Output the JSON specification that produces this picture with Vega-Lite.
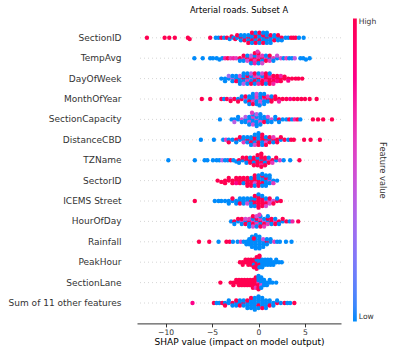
{
"$schema":"https://vega.github.io/schema/vega-lite/v6.json",
"width":204,"height":306,
"autosize":{"type":"none"},
"padding":{"left":137,"top":17.4,"right":58,"bottom":30.6},
"title":{"text":"Arterial roads. Subset A","fontSize":8.3,"fontWeight":"normal","font":"DejaVu Sans","color":"#000","offset":3,"anchor":"middle"},
"config":{"view":{"stroke":null},"font":"DejaVu Sans"},
"datasets":{
"names":[{"r":0,"feature":"SectionID"},{"r":1,"feature":"TempAvg"},{"r":2,"feature":"DayOfWeek"},{"r":3,"feature":"MonthOfYear"},{"r":4,"feature":"SectionCapacity"},{"r":5,"feature":"DistanceCBD"},{"r":6,"feature":"TZName"},{"r":7,"feature":"SectorID"},{"r":8,"feature":"ICEMS Street"},{"r":9,"feature":"HourOfDay"},{"r":10,"feature":"Rainfall"},{"r":11,"feature":"PeakHour"},{"r":12,"feature":"SectionLane"},{"r":13,"feature":"Sum of 11 other features"}],
"pts":[
{"r":0,"x":-12.0,"j":0,"v":1},{"r":0,"x":-10.1,"j":0,"v":1},{"r":0,"x":-9.6,"j":0,"v":1},{"r":0,"x":-9.0,"j":0,"v":1},{"r":0,"x":-7.6,"j":0,"v":1},{"r":0,"x":-7.4,"j":0.5,"v":1},{"r":0,"x":-5.2,"j":0,"v":1},
{"r":0,"x":-4.6,"j":0,"v":0},{"r":0,"x":-4.3,"j":0,"v":0},{"r":0,"x":-4.0,"j":0,"v":1},{"r":0,"x":-3.7,"j":0,"v":0},{"r":0,"x":-3.4,"j":0,"v":1},{"r":0,"x":-3.1,"j":0.5,"v":0},{"r":0,"x":-2.9,"j":-0.5,"v":1},{"r":0,"x":-2.7,"j":0,"v":0},{"r":0,"x":-2.5,"j":0.5,"v":1},
{"r":0,"x":-2.3,"j":0,"v":0},{"r":0,"x":-2.3,"j":-1,"v":1},
{"r":0,"x":-1.9,"j":0,"v":1},{"r":0,"x":-1.9,"j":1,"v":0},{"r":0,"x":-1.9,"j":-1,"v":0},
{"r":0,"x":-1.5,"j":0,"v":0},{"r":0,"x":-1.5,"j":1,"v":1},{"r":0,"x":-1.5,"j":-1,"v":0},
{"r":0,"x":-1.1,"j":0,"v":1},{"r":0,"x":-1.1,"j":1,"v":0},{"r":0,"x":-1.1,"j":-1,"v":0},{"r":0,"x":-1.1,"j":2,"v":1},
{"r":0,"x":-0.7,"j":0,"v":0},{"r":0,"x":-0.7,"j":1,"v":1},{"r":0,"x":-0.7,"j":-1,"v":0},{"r":0,"x":-0.7,"j":2,"v":0},{"r":0,"x":-0.7,"j":-2,"v":1},
{"r":0,"x":-0.3,"j":0,"v":1},{"r":0,"x":-0.3,"j":1,"v":0},{"r":0,"x":-0.3,"j":-1,"v":1},{"r":0,"x":-0.3,"j":2,"v":1},{"r":0,"x":-0.3,"j":-2,"v":0},
{"r":0,"x":0.1,"j":0,"v":0},{"r":0,"x":0.1,"j":1,"v":1},{"r":0,"x":0.1,"j":-1,"v":0},{"r":0,"x":0.1,"j":2,"v":0},{"r":0,"x":0.1,"j":-2,"v":1},
{"r":0,"x":0.5,"j":0,"v":0},{"r":0,"x":0.5,"j":1,"v":0},{"r":0,"x":0.5,"j":-1,"v":1},{"r":0,"x":0.5,"j":2,"v":1},{"r":0,"x":0.5,"j":-2,"v":0},
{"r":0,"x":0.9,"j":0,"v":1},{"r":0,"x":0.9,"j":1,"v":0},{"r":0,"x":0.9,"j":-1,"v":0},{"r":0,"x":0.9,"j":2,"v":0},{"r":0,"x":0.9,"j":-2,"v":0},
{"r":0,"x":1.3,"j":0,"v":0},{"r":0,"x":1.3,"j":1,"v":0},{"r":0,"x":1.3,"j":-1,"v":1},{"r":0,"x":1.3,"j":2,"v":0},
{"r":0,"x":1.7,"j":0,"v":0},{"r":0,"x":1.7,"j":1,"v":1},{"r":0,"x":1.7,"j":-1,"v":0},
{"r":0,"x":2.1,"j":0,"v":0},{"r":0,"x":2.1,"j":1,"v":0},{"r":0,"x":2.1,"j":-1,"v":1},
{"r":0,"x":2.5,"j":0,"v":1},{"r":0,"x":2.5,"j":1,"v":0},
{"r":0,"x":2.9,"j":0,"v":0},{"r":0,"x":3.2,"j":0,"v":0},{"r":0,"x":3.5,"j":0,"v":1},{"r":0,"x":3.75,"j":0,"v":1},{"r":0,"x":4.0,"j":0,"v":1},{"r":0,"x":4.35,"j":0,"v":0},{"r":0,"x":4.85,"j":0,"v":0},

{"r":1,"x":-6.9,"j":0,"v":0},{"r":1,"x":-6.0,"j":0,"v":0},{"r":1,"x":-5.2,"j":0,"v":0},{"r":1,"x":-4.9,"j":0,"v":0},{"r":1,"x":-4.5,"j":0,"v":0},{"r":1,"x":-4.2,"j":0.5,"v":0},{"r":1,"x":-3.9,"j":0,"v":0},{"r":1,"x":-3.6,"j":0,"v":0.7},{"r":1,"x":-3.3,"j":0,"v":1},{"r":1,"x":-3.0,"j":0,"v":0.6},
{"r":1,"x":-2.7,"j":0,"v":0.7},{"r":1,"x":-2.4,"j":0,"v":0.6},
{"r":1,"x":-2.0,"j":0,"v":1},{"r":1,"x":-2.0,"j":1,"v":0},
{"r":1,"x":-1.6,"j":0,"v":0.6},{"r":1,"x":-1.6,"j":-1,"v":1},{"r":1,"x":-1.6,"j":1,"v":0},
{"r":1,"x":-1.2,"j":0,"v":1},{"r":1,"x":-1.2,"j":1,"v":0.5},{"r":1,"x":-1.2,"j":-1,"v":0},
{"r":1,"x":-0.8,"j":0,"v":0.6},{"r":1,"x":-0.8,"j":1,"v":1},{"r":1,"x":-0.8,"j":-1,"v":0.4},{"r":1,"x":-0.8,"j":2,"v":0},
{"r":1,"x":-0.4,"j":0,"v":1},{"r":1,"x":-0.4,"j":1,"v":0.6},{"r":1,"x":-0.4,"j":-1,"v":0},{"r":1,"x":-0.4,"j":2,"v":0.7},{"r":1,"x":-0.4,"j":-2,"v":1},
{"r":1,"x":0.0,"j":0,"v":0.6},{"r":1,"x":0.0,"j":1,"v":1},{"r":1,"x":0.0,"j":-1,"v":0.7},{"r":1,"x":0.0,"j":2,"v":0},{"r":1,"x":0.0,"j":-2,"v":1},{"r":1,"x":-0.1,"j":-2.6,"v":0.6},
{"r":1,"x":0.4,"j":0,"v":1},{"r":1,"x":0.4,"j":1,"v":0},{"r":1,"x":0.4,"j":-1,"v":0.6},{"r":1,"x":0.4,"j":2,"v":0.5},
{"r":1,"x":0.8,"j":0,"v":0.5},{"r":1,"x":0.8,"j":1,"v":1},{"r":1,"x":0.8,"j":-1,"v":0},
{"r":1,"x":1.2,"j":0,"v":0},{"r":1,"x":1.2,"j":1,"v":0.6},{"r":1,"x":1.2,"j":-1,"v":1},
{"r":1,"x":1.6,"j":0,"v":0.6},{"r":1,"x":1.6,"j":1,"v":0},
{"r":1,"x":2.0,"j":0,"v":0},{"r":1,"x":2.0,"j":-1,"v":0.5},
{"r":1,"x":2.4,"j":0,"v":0.5},{"r":1,"x":2.7,"j":0,"v":0},{"r":1,"x":3.0,"j":0,"v":0.6},{"r":1,"x":3.3,"j":0,"v":0},{"r":1,"x":3.6,"j":0,"v":0},{"r":1,"x":3.9,"j":0,"v":0.4},{"r":1,"x":4.5,"j":0,"v":0},{"r":1,"x":4.8,"j":0,"v":0},{"r":1,"x":5.1,"j":0.5,"v":0},{"r":1,"x":5.5,"j":0,"v":0},

{"r":2,"x":-4.0,"j":0,"v":0},
{"r":2,"x":-3.6,"j":0,"v":0},{"r":2,"x":-3.6,"j":1,"v":0},
{"r":2,"x":-3.2,"j":0,"v":0},{"r":2,"x":-3.2,"j":-1,"v":0.3},
{"r":2,"x":-2.8,"j":0,"v":0.4},{"r":2,"x":-2.8,"j":1,"v":0},{"r":2,"x":-2.8,"j":-1,"v":0},
{"r":2,"x":-2.4,"j":0,"v":0},{"r":2,"x":-2.4,"j":1,"v":1},{"r":2,"x":-2.4,"j":-1,"v":0},
{"r":2,"x":-2.0,"j":0,"v":0},{"r":2,"x":-2.0,"j":1,"v":0},{"r":2,"x":-2.0,"j":-1,"v":0.5},{"r":2,"x":-2.0,"j":2,"v":0},
{"r":2,"x":-1.6,"j":0,"v":1},{"r":2,"x":-1.6,"j":1,"v":0},{"r":2,"x":-1.6,"j":-1,"v":0},{"r":2,"x":-1.6,"j":2,"v":0.4},{"r":2,"x":-1.6,"j":-2,"v":0},
{"r":2,"x":-1.2,"j":0,"v":0},{"r":2,"x":-1.2,"j":1,"v":0.6},{"r":2,"x":-1.2,"j":-1,"v":1},{"r":2,"x":-1.2,"j":2,"v":0},{"r":2,"x":-1.2,"j":-2,"v":0},
{"r":2,"x":-0.8,"j":0,"v":0.5},{"r":2,"x":-0.8,"j":1,"v":0},{"r":2,"x":-0.8,"j":-1,"v":0},{"r":2,"x":-0.8,"j":2,"v":1},{"r":2,"x":-0.8,"j":-2,"v":0.4},
{"r":2,"x":-0.4,"j":0,"v":0},{"r":2,"x":-0.4,"j":1,"v":1},{"r":2,"x":-0.4,"j":-1,"v":0.6},{"r":2,"x":-0.4,"j":2,"v":0},{"r":2,"x":-0.4,"j":-2,"v":1},
{"r":2,"x":0.0,"j":0,"v":1},{"r":2,"x":0.0,"j":1,"v":0},{"r":2,"x":0.0,"j":-1,"v":0.5},{"r":2,"x":0.0,"j":2,"v":0.7},{"r":2,"x":0.0,"j":-2,"v":0},
{"r":2,"x":0.4,"j":0,"v":0.6},{"r":2,"x":0.4,"j":1,"v":1},{"r":2,"x":0.4,"j":-1,"v":0},{"r":2,"x":0.4,"j":2,"v":1},{"r":2,"x":0.4,"j":-2,"v":0.5},
{"r":2,"x":0.8,"j":0,"v":1},{"r":2,"x":0.8,"j":1,"v":0.7},{"r":2,"x":0.8,"j":-1,"v":1},{"r":2,"x":0.8,"j":2,"v":0},{"r":2,"x":0.8,"j":-2,"v":1},
{"r":2,"x":1.2,"j":0,"v":1},{"r":2,"x":1.2,"j":1,"v":1},{"r":2,"x":1.2,"j":-1,"v":0.7},{"r":2,"x":1.2,"j":2,"v":1},{"r":2,"x":1.2,"j":-2,"v":0},
{"r":2,"x":1.6,"j":0,"v":0.8},{"r":2,"x":1.6,"j":1,"v":1},{"r":2,"x":1.6,"j":-1,"v":1},{"r":2,"x":1.6,"j":2,"v":0.7},
{"r":2,"x":2.0,"j":0,"v":1},{"r":2,"x":2.0,"j":1,"v":0.8},{"r":2,"x":2.0,"j":-1,"v":1},
{"r":2,"x":2.4,"j":0,"v":1},{"r":2,"x":2.4,"j":1,"v":1},{"r":2,"x":2.4,"j":-1,"v":0.7},
{"r":2,"x":2.8,"j":0,"v":1},{"r":2,"x":2.8,"j":-0.8,"v":1},
{"r":2,"x":3.2,"j":0,"v":1},{"r":2,"x":3.2,"j":0.8,"v":0.8},
{"r":2,"x":3.6,"j":0,"v":1},{"r":2,"x":4.0,"j":0,"v":1},{"r":2,"x":4.3,"j":0,"v":1},{"r":2,"x":4.7,"j":0,"v":1},

{"r":3,"x":-6.1,"j":0,"v":1},{"r":3,"x":-5.2,"j":0,"v":1},
{"r":3,"x":-4.0,"j":0,"v":1},{"r":3,"x":-3.7,"j":0,"v":0},{"r":3,"x":-3.4,"j":0,"v":1},{"r":3,"x":-3.0,"j":0,"v":0.5},{"r":3,"x":-3.0,"j":0.8,"v":1},{"r":3,"x":-2.6,"j":0,"v":1},
{"r":3,"x":-2.2,"j":0,"v":0},{"r":3,"x":-2.2,"j":1,"v":1},
{"r":3,"x":-1.8,"j":0,"v":1},{"r":3,"x":-1.8,"j":-1,"v":0},
{"r":3,"x":-1.4,"j":0,"v":0.4},{"r":3,"x":-1.4,"j":1,"v":0},{"r":3,"x":-1.4,"j":-1,"v":1},
{"r":3,"x":-1.0,"j":0,"v":0},{"r":3,"x":-1.0,"j":1,"v":1},{"r":3,"x":-1.0,"j":-1,"v":0},{"r":3,"x":-1.0,"j":2,"v":0},
{"r":3,"x":-0.6,"j":0,"v":0},{"r":3,"x":-0.6,"j":1,"v":0.6},{"r":3,"x":-0.6,"j":-1,"v":0},{"r":3,"x":-0.6,"j":2,"v":1},{"r":3,"x":-0.6,"j":-2,"v":0},
{"r":3,"x":-0.2,"j":0,"v":0.5},{"r":3,"x":-0.2,"j":1,"v":0},{"r":3,"x":-0.2,"j":-1,"v":0.6},{"r":3,"x":-0.2,"j":2,"v":0},{"r":3,"x":-0.2,"j":-2,"v":0.5},
{"r":3,"x":0.2,"j":0,"v":0},{"r":3,"x":0.2,"j":1,"v":0.5},{"r":3,"x":0.2,"j":-1,"v":0},{"r":3,"x":0.2,"j":2,"v":0.4},{"r":3,"x":0.2,"j":-2,"v":0},{"r":3,"x":0.1,"j":2.5,"v":0},
{"r":3,"x":0.6,"j":0,"v":0.6},{"r":3,"x":0.6,"j":1,"v":0},{"r":3,"x":0.6,"j":-1,"v":1},{"r":3,"x":0.6,"j":2,"v":0},{"r":3,"x":0.6,"j":-2,"v":0},
{"r":3,"x":1.0,"j":0,"v":1},{"r":3,"x":1.0,"j":1,"v":0},{"r":3,"x":1.0,"j":-1,"v":0.6},
{"r":3,"x":1.4,"j":0,"v":1},{"r":3,"x":1.4,"j":1,"v":1},{"r":3,"x":1.4,"j":-1,"v":0},
{"r":3,"x":1.8,"j":0,"v":1},{"r":3,"x":1.8,"j":-1,"v":1},
{"r":3,"x":2.2,"j":0,"v":1},{"r":3,"x":2.2,"j":1,"v":0.7},
{"r":3,"x":2.6,"j":0,"v":1},{"r":3,"x":3.0,"j":0,"v":1},{"r":3,"x":3.4,"j":0,"v":0.8},{"r":3,"x":3.8,"j":0,"v":1},{"r":3,"x":4.2,"j":0,"v":1},{"r":3,"x":4.6,"j":0,"v":1},{"r":3,"x":5.0,"j":0,"v":1},{"r":3,"x":5.5,"j":0,"v":1},{"r":3,"x":6.25,"j":0,"v":1},

{"r":4,"x":-4.15,"j":0,"v":0},{"r":4,"x":-2.9,"j":0,"v":0},
{"r":4,"x":-2.6,"j":0,"v":0},{"r":4,"x":-2.6,"j":1,"v":0.4},
{"r":4,"x":-2.2,"j":0,"v":0},{"r":4,"x":-2.2,"j":-1,"v":0},
{"r":4,"x":-1.8,"j":0,"v":0.5},{"r":4,"x":-1.8,"j":1,"v":0},
{"r":4,"x":-1.4,"j":0,"v":0},{"r":4,"x":-1.4,"j":1,"v":0},{"r":4,"x":-1.4,"j":-1,"v":0.4},
{"r":4,"x":-1.0,"j":0,"v":0},{"r":4,"x":-1.0,"j":1,"v":0.5},{"r":4,"x":-1.0,"j":-1,"v":0},{"r":4,"x":-1.0,"j":2,"v":0},
{"r":4,"x":-0.6,"j":0,"v":0},{"r":4,"x":-0.6,"j":1,"v":0},{"r":4,"x":-0.6,"j":-1,"v":0.6},{"r":4,"x":-0.6,"j":2,"v":0.5},{"r":4,"x":-0.6,"j":-2,"v":0},{"r":4,"x":-0.7,"j":-2.6,"v":0.6},
{"r":4,"x":-0.2,"j":0,"v":0.5},{"r":4,"x":-0.2,"j":1,"v":0},{"r":4,"x":-0.2,"j":-1,"v":0},{"r":4,"x":-0.2,"j":2,"v":0},{"r":4,"x":-0.2,"j":-2,"v":0.4},{"r":4,"x":-0.2,"j":2.6,"v":0},
{"r":4,"x":0.2,"j":0,"v":0},{"r":4,"x":0.2,"j":1,"v":0.5},{"r":4,"x":0.2,"j":-1,"v":0},{"r":4,"x":0.2,"j":2,"v":0},{"r":4,"x":0.2,"j":-2,"v":0},
{"r":4,"x":0.6,"j":0,"v":0},{"r":4,"x":0.6,"j":1,"v":1},{"r":4,"x":0.6,"j":-1,"v":0},
{"r":4,"x":1.0,"j":0,"v":0},{"r":4,"x":1.0,"j":1,"v":0},{"r":4,"x":1.0,"j":-1,"v":0.5},
{"r":4,"x":1.4,"j":0,"v":0.5},{"r":4,"x":1.4,"j":1,"v":0},
{"r":4,"x":1.8,"j":0,"v":0},{"r":4,"x":1.8,"j":-1,"v":0},
{"r":4,"x":2.2,"j":0,"v":1},{"r":4,"x":2.2,"j":1,"v":0},
{"r":4,"x":2.6,"j":0,"v":0},{"r":4,"x":3.0,"j":0,"v":0},{"r":4,"x":3.3,"j":0,"v":1},{"r":4,"x":3.6,"j":0,"v":0},{"r":4,"x":3.9,"j":0,"v":0.7},{"r":4,"x":4.2,"j":0,"v":1},{"r":4,"x":4.5,"j":0,"v":0},{"r":4,"x":5.85,"j":0,"v":1},{"r":4,"x":6.4,"j":0,"v":1},{"r":4,"x":6.95,"j":0,"v":1},{"r":4,"x":7.9,"j":0,"v":1},

{"r":5,"x":-6.2,"j":0,"v":0},{"r":5,"x":-4.8,"j":0,"v":0},
{"r":5,"x":-3.8,"j":0,"v":0},{"r":5,"x":-3.5,"j":0,"v":0.6},
{"r":5,"x":-3.2,"j":0,"v":0},{"r":5,"x":-3.2,"j":1,"v":1},
{"r":5,"x":-2.8,"j":0,"v":0},
{"r":5,"x":-2.4,"j":0,"v":1},{"r":5,"x":-2.4,"j":1,"v":0},
{"r":5,"x":-2.0,"j":0,"v":0},{"r":5,"x":-2.0,"j":-1,"v":1},
{"r":5,"x":-1.6,"j":0,"v":0},{"r":5,"x":-1.6,"j":1,"v":0.6},{"r":5,"x":-1.6,"j":-1,"v":0},
{"r":5,"x":-1.2,"j":0,"v":1},{"r":5,"x":-1.2,"j":1,"v":0},{"r":5,"x":-1.2,"j":-1,"v":0},
{"r":5,"x":-0.8,"j":0,"v":0},{"r":5,"x":-0.8,"j":1,"v":1},{"r":5,"x":-0.8,"j":-1,"v":0},{"r":5,"x":-0.8,"j":2,"v":0},
{"r":5,"x":-0.4,"j":0,"v":1},{"r":5,"x":-0.4,"j":1,"v":0},{"r":5,"x":-0.4,"j":-1,"v":1},{"r":5,"x":-0.4,"j":2,"v":0.5},{"r":5,"x":-0.4,"j":-2,"v":0},
{"r":5,"x":0.0,"j":0,"v":0},{"r":5,"x":0.0,"j":1,"v":1},{"r":5,"x":0.0,"j":-1,"v":0},{"r":5,"x":0.0,"j":2,"v":1},{"r":5,"x":0.0,"j":-2,"v":0},{"r":5,"x":0.0,"j":-2.6,"v":0},
{"r":5,"x":0.4,"j":0,"v":1},{"r":5,"x":0.4,"j":1,"v":0},{"r":5,"x":0.4,"j":-1,"v":1},{"r":5,"x":0.4,"j":2,"v":0},{"r":5,"x":0.4,"j":-2,"v":1},
{"r":5,"x":0.8,"j":0,"v":1},{"r":5,"x":0.8,"j":1,"v":0.5},{"r":5,"x":0.8,"j":-1,"v":0},{"r":5,"x":0.8,"j":2,"v":1},
{"r":5,"x":1.2,"j":0,"v":0},{"r":5,"x":1.2,"j":1,"v":1},{"r":5,"x":1.2,"j":-1,"v":1},
{"r":5,"x":1.6,"j":0,"v":1},{"r":5,"x":1.6,"j":1,"v":0},{"r":5,"x":1.6,"j":-1,"v":0.6},
{"r":5,"x":2.0,"j":0,"v":1},{"r":5,"x":2.0,"j":1,"v":1},
{"r":5,"x":2.4,"j":0,"v":0},{"r":5,"x":2.4,"j":-1,"v":1},
{"r":5,"x":2.8,"j":0,"v":1},{"r":5,"x":3.2,"j":0,"v":0},{"r":5,"x":3.5,"j":0,"v":1},{"r":5,"x":3.8,"j":0,"v":1},{"r":5,"x":4.9,"j":0,"v":1},{"r":5,"x":5.6,"j":0,"v":1},{"r":5,"x":6.6,"j":0,"v":1},

{"r":6,"x":-9.7,"j":0,"v":0},{"r":6,"x":-6.85,"j":0,"v":0},{"r":6,"x":-5.8,"j":0,"v":0},{"r":6,"x":-5.5,"j":0,"v":0},{"r":6,"x":-4.9,"j":0,"v":0},{"r":6,"x":-4.5,"j":0,"v":0},{"r":6,"x":-4.2,"j":0,"v":0},{"r":6,"x":-3.9,"j":0,"v":0.4},{"r":6,"x":-3.6,"j":0,"v":0},{"r":6,"x":-3.3,"j":0,"v":0},{"r":6,"x":-3.0,"j":0,"v":1},{"r":6,"x":-2.7,"j":0,"v":0},{"r":6,"x":-2.4,"j":0.5,"v":0},
{"r":6,"x":-2.1,"j":0,"v":1},{"r":6,"x":-2.1,"j":1,"v":0},
{"r":6,"x":-1.7,"j":0,"v":0},{"r":6,"x":-1.7,"j":-1,"v":1},
{"r":6,"x":-1.3,"j":0,"v":1},{"r":6,"x":-1.3,"j":1,"v":0},{"r":6,"x":-1.3,"j":-1,"v":1},
{"r":6,"x":-0.9,"j":0,"v":1},{"r":6,"x":-0.9,"j":1,"v":1},{"r":6,"x":-0.9,"j":-1,"v":0},
{"r":6,"x":-0.5,"j":0,"v":1},{"r":6,"x":-0.5,"j":1,"v":0},{"r":6,"x":-0.5,"j":-1,"v":1},{"r":6,"x":-0.5,"j":2,"v":1},
{"r":6,"x":-0.1,"j":0,"v":1},{"r":6,"x":-0.1,"j":1,"v":1},{"r":6,"x":-0.1,"j":-1,"v":0},{"r":6,"x":-0.1,"j":2,"v":1},{"r":6,"x":-0.1,"j":-2,"v":1},
{"r":6,"x":0.3,"j":0,"v":0},{"r":6,"x":0.3,"j":1,"v":1},{"r":6,"x":0.3,"j":-1,"v":1},{"r":6,"x":0.3,"j":2,"v":0.7},{"r":6,"x":0.3,"j":-2,"v":1},{"r":6,"x":0.3,"j":2.6,"v":1},{"r":6,"x":0.3,"j":-2.6,"v":1},
{"r":6,"x":0.7,"j":0,"v":1},{"r":6,"x":0.7,"j":1,"v":0},{"r":6,"x":0.7,"j":-1,"v":1},{"r":6,"x":0.7,"j":2,"v":1},
{"r":6,"x":1.1,"j":0,"v":0.6},{"r":6,"x":1.1,"j":1,"v":1},{"r":6,"x":1.1,"j":-1,"v":0},
{"r":6,"x":1.5,"j":0,"v":1},{"r":6,"x":1.5,"j":1,"v":0.6},
{"r":6,"x":1.9,"j":0,"v":0},{"r":6,"x":1.9,"j":-1,"v":1},
{"r":6,"x":2.3,"j":0,"v":0.6},{"r":6,"x":2.7,"j":0,"v":0},{"r":6,"x":3.4,"j":0,"v":0},{"r":6,"x":4.4,"j":0,"v":1},

{"r":7,"x":-4.4,"j":0,"v":1},{"r":7,"x":-4.0,"j":0.5,"v":1},
{"r":7,"x":-3.6,"j":0,"v":1},{"r":7,"x":-3.6,"j":1,"v":1},
{"r":7,"x":-3.2,"j":0,"v":1},{"r":7,"x":-3.2,"j":-1,"v":1},
{"r":7,"x":-2.8,"j":0,"v":1},{"r":7,"x":-2.8,"j":1,"v":1},
{"r":7,"x":-2.4,"j":0,"v":1},{"r":7,"x":-2.4,"j":-1,"v":1},{"r":7,"x":-2.4,"j":1,"v":0.8},
{"r":7,"x":-2.0,"j":0,"v":1},{"r":7,"x":-2.0,"j":1,"v":1},{"r":7,"x":-2.0,"j":-1,"v":1},
{"r":7,"x":-1.6,"j":0,"v":1},{"r":7,"x":-1.6,"j":1,"v":0},{"r":7,"x":-1.6,"j":-1,"v":1},
{"r":7,"x":-1.2,"j":0,"v":1},{"r":7,"x":-1.2,"j":1,"v":1},{"r":7,"x":-1.2,"j":-1,"v":1},{"r":7,"x":-1.2,"j":2,"v":1},
{"r":7,"x":-0.8,"j":0,"v":1},{"r":7,"x":-0.8,"j":1,"v":1},{"r":7,"x":-0.8,"j":-1,"v":0},{"r":7,"x":-0.8,"j":2,"v":1},
{"r":7,"x":-0.4,"j":0,"v":1},{"r":7,"x":-0.4,"j":1,"v":0.5},{"r":7,"x":-0.4,"j":-1,"v":1},{"r":7,"x":-0.4,"j":2,"v":0},{"r":7,"x":-0.4,"j":-2,"v":1},
{"r":7,"x":0.0,"j":0,"v":1},{"r":7,"x":0.0,"j":1,"v":1},{"r":7,"x":0.0,"j":-1,"v":0},{"r":7,"x":0.0,"j":2,"v":1},{"r":7,"x":0.0,"j":-2,"v":0},
{"r":7,"x":0.4,"j":0,"v":0},{"r":7,"x":0.4,"j":1,"v":1},{"r":7,"x":0.4,"j":-1,"v":0},{"r":7,"x":0.4,"j":2,"v":0},{"r":7,"x":0.4,"j":-2,"v":1},{"r":7,"x":0.4,"j":-2.6,"v":0},
{"r":7,"x":0.8,"j":0,"v":0},{"r":7,"x":0.8,"j":1,"v":0},{"r":7,"x":0.8,"j":-1,"v":1},{"r":7,"x":0.8,"j":2,"v":0},{"r":7,"x":0.8,"j":-2,"v":0},
{"r":7,"x":1.2,"j":0,"v":0.5},{"r":7,"x":1.2,"j":1,"v":0},{"r":7,"x":1.2,"j":-1,"v":0},{"r":7,"x":1.2,"j":-2,"v":0},
{"r":7,"x":1.6,"j":0,"v":0},{"r":7,"x":1.6,"j":1,"v":0.6},
{"r":7,"x":2.0,"j":0,"v":0},

{"r":8,"x":-6.85,"j":0,"v":1},
{"r":8,"x":-4.7,"j":0,"v":0},{"r":8,"x":-4.3,"j":0,"v":0},{"r":8,"x":-4.0,"j":0,"v":0},{"r":8,"x":-3.6,"j":0,"v":0},
{"r":8,"x":-3.2,"j":0,"v":0},{"r":8,"x":-3.2,"j":1,"v":0},
{"r":8,"x":-2.8,"j":0,"v":0},{"r":8,"x":-2.8,"j":-1,"v":1},
{"r":8,"x":-2.4,"j":0,"v":0},{"r":8,"x":-2.4,"j":1,"v":0},
{"r":8,"x":-2.0,"j":0,"v":0},{"r":8,"x":-2.0,"j":1,"v":1},{"r":8,"x":-2.0,"j":-1,"v":0},
{"r":8,"x":-1.6,"j":0,"v":0},{"r":8,"x":-1.6,"j":1,"v":0},{"r":8,"x":-1.6,"j":-1,"v":0},
{"r":8,"x":-1.2,"j":0,"v":0},{"r":8,"x":-1.2,"j":1,"v":0.5},{"r":8,"x":-1.2,"j":-1,"v":0},
{"r":8,"x":-0.8,"j":0,"v":1},{"r":8,"x":-0.8,"j":1,"v":0},{"r":8,"x":-0.8,"j":-1,"v":0},{"r":8,"x":-0.8,"j":2,"v":0},
{"r":8,"x":-0.4,"j":0,"v":1},{"r":8,"x":-0.4,"j":1,"v":1},{"r":8,"x":-0.4,"j":-1,"v":0},{"r":8,"x":-0.4,"j":2,"v":0},{"r":8,"x":-0.4,"j":-2,"v":1},
{"r":8,"x":0.0,"j":0,"v":1},{"r":8,"x":0.0,"j":1,"v":1},{"r":8,"x":0.0,"j":-1,"v":1},{"r":8,"x":0.0,"j":2,"v":1},{"r":8,"x":0.0,"j":-2,"v":1},{"r":8,"x":0.0,"j":2.6,"v":1},{"r":8,"x":0.0,"j":-2.6,"v":0},
{"r":8,"x":0.4,"j":0,"v":1},{"r":8,"x":0.4,"j":1,"v":1},{"r":8,"x":0.4,"j":-1,"v":1},{"r":8,"x":0.4,"j":2,"v":1},{"r":8,"x":0.4,"j":-2,"v":0},
{"r":8,"x":0.8,"j":0,"v":0.6},{"r":8,"x":0.8,"j":1,"v":1},{"r":8,"x":0.8,"j":-1,"v":0},{"r":8,"x":0.8,"j":2,"v":0.5},
{"r":8,"x":1.2,"j":0,"v":0.6},{"r":8,"x":1.2,"j":1,"v":0.5},{"r":8,"x":1.2,"j":-1,"v":1},
{"r":8,"x":1.6,"j":0,"v":0.5},{"r":8,"x":1.6,"j":1,"v":1},
{"r":8,"x":2.0,"j":0,"v":1},{"r":8,"x":2.0,"j":-1,"v":0},
{"r":8,"x":2.4,"j":0,"v":1},

{"r":9,"x":-2.95,"j":0,"v":0},
{"r":9,"x":-2.6,"j":0,"v":1},{"r":9,"x":-2.6,"j":1,"v":0},
{"r":9,"x":-2.2,"j":0,"v":0},{"r":9,"x":-2.2,"j":-1,"v":1},
{"r":9,"x":-1.8,"j":0,"v":0.6},{"r":9,"x":-1.8,"j":1,"v":0},{"r":9,"x":-1.8,"j":-1,"v":1},
{"r":9,"x":-1.4,"j":0,"v":0},{"r":9,"x":-1.4,"j":1,"v":1},{"r":9,"x":-1.4,"j":-1,"v":0.5},
{"r":9,"x":-1.0,"j":0,"v":1},{"r":9,"x":-1.0,"j":1,"v":0},{"r":9,"x":-1.0,"j":-1,"v":0.6},{"r":9,"x":-1.0,"j":2,"v":0},
{"r":9,"x":-0.6,"j":0,"v":0.6},{"r":9,"x":-0.6,"j":1,"v":1},{"r":9,"x":-0.6,"j":-1,"v":0},{"r":9,"x":-0.6,"j":2,"v":0.5},{"r":9,"x":-0.6,"j":-2,"v":1},
{"r":9,"x":-0.2,"j":0,"v":0},{"r":9,"x":-0.2,"j":1,"v":0.6},{"r":9,"x":-0.2,"j":-1,"v":1},{"r":9,"x":-0.2,"j":2,"v":0},{"r":9,"x":-0.2,"j":-2,"v":0.5},
{"r":9,"x":0.2,"j":0,"v":1},{"r":9,"x":0.2,"j":1,"v":0},{"r":9,"x":0.2,"j":-1,"v":0.6},{"r":9,"x":0.2,"j":2,"v":1},{"r":9,"x":0.2,"j":-2,"v":0},{"r":9,"x":0.1,"j":-2.6,"v":0.6},
{"r":9,"x":0.6,"j":0,"v":0.5},{"r":9,"x":0.6,"j":1,"v":1},{"r":9,"x":0.6,"j":-1,"v":0},{"r":9,"x":0.6,"j":2,"v":0.6},
{"r":9,"x":1.0,"j":0,"v":0},{"r":9,"x":1.0,"j":1,"v":0.6},{"r":9,"x":1.0,"j":-1,"v":1},{"r":9,"x":1.0,"j":-2,"v":0},
{"r":9,"x":1.4,"j":0,"v":1},{"r":9,"x":1.4,"j":1,"v":0},{"r":9,"x":1.4,"j":-1,"v":1},
{"r":9,"x":1.8,"j":0,"v":0.6},{"r":9,"x":1.8,"j":1,"v":1},{"r":9,"x":1.8,"j":-1,"v":0},
{"r":9,"x":2.2,"j":0,"v":1},{"r":9,"x":2.2,"j":1,"v":0},
{"r":9,"x":2.6,"j":0,"v":0},{"r":9,"x":2.6,"j":-1,"v":1},
{"r":9,"x":3.0,"j":0,"v":1},{"r":9,"x":3.35,"j":0,"v":0},{"r":9,"x":3.65,"j":0,"v":0.7},{"r":9,"x":4.27,"j":0,"v":1},

{"r":10,"x":-6.4,"j":0,"v":1},{"r":10,"x":-5.3,"j":0,"v":1},{"r":10,"x":-4.3,"j":0,"v":0},{"r":10,"x":-3.45,"j":0,"v":1},{"r":10,"x":-3.1,"j":0,"v":1},{"r":10,"x":-2.75,"j":0,"v":0},{"r":10,"x":-2.25,"j":0,"v":0},{"r":10,"x":-1.9,"j":0,"v":0.6},
{"r":10,"x":-1.6,"j":0,"v":0},
{"r":10,"x":-1.3,"j":0,"v":0},{"r":10,"x":-1.3,"j":1,"v":0},
{"r":10,"x":-1.0,"j":0,"v":0},{"r":10,"x":-1.0,"j":1,"v":0},{"r":10,"x":-1.0,"j":-1,"v":0},
{"r":10,"x":-0.7,"j":0,"v":0},{"r":10,"x":-0.7,"j":1,"v":0},{"r":10,"x":-0.7,"j":-1,"v":0},{"r":10,"x":-0.7,"j":2,"v":0},{"r":10,"x":-0.7,"j":-2,"v":0},
{"r":10,"x":-0.3,"j":0,"v":0},{"r":10,"x":-0.3,"j":1,"v":0},{"r":10,"x":-0.3,"j":-1,"v":0},{"r":10,"x":-0.3,"j":2,"v":0},{"r":10,"x":-0.3,"j":-2,"v":0},{"r":10,"x":-0.3,"j":2.6,"v":0},{"r":10,"x":-0.3,"j":-2.6,"v":0},
{"r":10,"x":0.1,"j":0,"v":0},{"r":10,"x":0.1,"j":1,"v":0},{"r":10,"x":0.1,"j":-1,"v":0},{"r":10,"x":0.1,"j":2,"v":0},{"r":10,"x":0.1,"j":-2,"v":0},{"r":10,"x":0.1,"j":2.6,"v":0},
{"r":10,"x":0.5,"j":0,"v":0},{"r":10,"x":0.5,"j":1,"v":0},{"r":10,"x":0.5,"j":-1,"v":0.5},{"r":10,"x":0.5,"j":2,"v":0},
{"r":10,"x":0.9,"j":0,"v":1},{"r":10,"x":0.9,"j":1,"v":0},{"r":10,"x":0.9,"j":-1,"v":0},
{"r":10,"x":1.3,"j":0,"v":0},{"r":10,"x":1.3,"j":-1,"v":0},
{"r":10,"x":-0.5,"j":-1.3,"v":1},
{"r":10,"x":1.7,"j":0,"v":0.6},{"r":10,"x":2.0,"j":0,"v":0},{"r":10,"x":2.3,"j":0,"v":0},{"r":10,"x":2.95,"j":0,"v":0},{"r":10,"x":3.55,"j":0,"v":0},

{"r":11,"x":-2.0,"j":0,"v":1},
{"r":11,"x":-1.7,"j":0,"v":1},{"r":11,"x":-1.7,"j":1,"v":1},
{"r":11,"x":-1.4,"j":0,"v":1},{"r":11,"x":-1.4,"j":-1,"v":1},
{"r":11,"x":-1.1,"j":0,"v":1},{"r":11,"x":-1.1,"j":1,"v":1},{"r":11,"x":-1.1,"j":-1,"v":1},
{"r":11,"x":-0.8,"j":0,"v":1},{"r":11,"x":-0.8,"j":1,"v":1},{"r":11,"x":-0.8,"j":-1,"v":1},
{"r":11,"x":-0.5,"j":0,"v":1},{"r":11,"x":-0.5,"j":1,"v":0},{"r":11,"x":-0.5,"j":-1,"v":1},{"r":11,"x":-0.5,"j":2,"v":1},
{"r":11,"x":-0.2,"j":0,"v":1},{"r":11,"x":-0.2,"j":1,"v":1},{"r":11,"x":-0.2,"j":-1,"v":0},{"r":11,"x":-0.2,"j":2,"v":1},{"r":11,"x":-0.2,"j":-2,"v":1},{"r":11,"x":-0.2,"j":2.6,"v":1},
{"r":11,"x":0.1,"j":0,"v":0},{"r":11,"x":0.1,"j":1,"v":1},{"r":11,"x":0.1,"j":-1,"v":0},{"r":11,"x":0.1,"j":2,"v":0},{"r":11,"x":0.1,"j":-2,"v":1},{"r":11,"x":0.1,"j":-2.6,"v":1},
{"r":11,"x":0.4,"j":0,"v":0},{"r":11,"x":0.4,"j":1,"v":0},{"r":11,"x":0.4,"j":-1,"v":0},{"r":11,"x":0.4,"j":2,"v":0},
{"r":11,"x":0.7,"j":0,"v":0},{"r":11,"x":0.7,"j":1,"v":0},{"r":11,"x":0.7,"j":-1,"v":0},
{"r":11,"x":1.0,"j":0,"v":0},{"r":11,"x":1.0,"j":1,"v":0},{"r":11,"x":1.0,"j":-1,"v":0},
{"r":11,"x":1.3,"j":0,"v":0},{"r":11,"x":1.3,"j":1,"v":0},{"r":11,"x":1.3,"j":-1,"v":0},
{"r":11,"x":1.6,"j":0,"v":0},{"r":11,"x":1.6,"j":1,"v":0},
{"r":11,"x":1.9,"j":0,"v":0},{"r":11,"x":1.9,"j":-1,"v":0},
{"r":11,"x":2.2,"j":0,"v":0},{"r":11,"x":2.5,"j":0,"v":0},

{"r":12,"x":-4.1,"j":0,"v":1},
{"r":12,"x":-3.0,"j":0,"v":1},
{"r":12,"x":-2.7,"j":0,"v":1},{"r":12,"x":-2.7,"j":1,"v":1},
{"r":12,"x":-2.4,"j":0,"v":1},{"r":12,"x":-2.4,"j":-1,"v":1},
{"r":12,"x":-2.1,"j":0,"v":1},{"r":12,"x":-2.1,"j":1,"v":1},{"r":12,"x":-2.1,"j":-1,"v":1},
{"r":12,"x":-1.8,"j":0,"v":1},{"r":12,"x":-1.8,"j":1,"v":1},{"r":12,"x":-1.8,"j":-1,"v":1},
{"r":12,"x":-1.5,"j":0,"v":1},{"r":12,"x":-1.5,"j":1,"v":1},{"r":12,"x":-1.5,"j":-1,"v":1},
{"r":12,"x":-1.2,"j":0,"v":1},{"r":12,"x":-1.2,"j":1,"v":1},{"r":12,"x":-1.2,"j":-1,"v":1},
{"r":12,"x":-0.9,"j":0,"v":1},{"r":12,"x":-0.9,"j":1,"v":1},{"r":12,"x":-0.9,"j":-1,"v":1},
{"r":12,"x":-0.6,"j":0,"v":1},{"r":12,"x":-0.6,"j":1,"v":1},{"r":12,"x":-0.6,"j":-1,"v":1},{"r":12,"x":-0.6,"j":2,"v":1},
{"r":12,"x":-0.3,"j":0,"v":1},{"r":12,"x":-0.3,"j":1,"v":1},{"r":12,"x":-0.3,"j":-1,"v":1},{"r":12,"x":-0.3,"j":2,"v":0.6},{"r":12,"x":-0.3,"j":-2,"v":1},
{"r":12,"x":0.0,"j":0,"v":0.6},{"r":12,"x":0.0,"j":1,"v":1},{"r":12,"x":0.0,"j":-1,"v":0},{"r":12,"x":0.0,"j":2,"v":1},{"r":12,"x":0.0,"j":-2,"v":0},{"r":12,"x":0.0,"j":2.6,"v":1},{"r":12,"x":0.0,"j":-2.6,"v":0},
{"r":12,"x":0.3,"j":0,"v":0},{"r":12,"x":0.3,"j":1,"v":0.5},{"r":12,"x":0.3,"j":-1,"v":0},{"r":12,"x":0.3,"j":2,"v":0},{"r":12,"x":0.3,"j":-2,"v":0},
{"r":12,"x":0.6,"j":0,"v":0},{"r":12,"x":0.6,"j":1,"v":0},{"r":12,"x":0.6,"j":-1,"v":0},
{"r":12,"x":0.9,"j":0,"v":0},{"r":12,"x":0.9,"j":1,"v":0},
{"r":12,"x":1.2,"j":0,"v":0},{"r":12,"x":1.2,"j":-1,"v":0},
{"r":12,"x":1.5,"j":0,"v":0},{"r":12,"x":1.9,"j":0,"v":0},

{"r":13,"x":-7.1,"j":0,"v":0.8},{"r":13,"x":-4.8,"j":0,"v":1},{"r":13,"x":-4.5,"j":0,"v":0},
{"r":13,"x":-4.2,"j":0,"v":0},{"r":13,"x":-3.9,"j":0,"v":1},
{"r":13,"x":-3.6,"j":0,"v":0},{"r":13,"x":-3.6,"j":1,"v":1},
{"r":13,"x":-3.2,"j":0,"v":0},{"r":13,"x":-3.2,"j":-1,"v":0},
{"r":13,"x":-2.8,"j":0,"v":1},{"r":13,"x":-2.8,"j":1,"v":0},
{"r":13,"x":-2.4,"j":0,"v":0},{"r":13,"x":-2.4,"j":-1,"v":1},{"r":13,"x":-2.4,"j":1,"v":0},
{"r":13,"x":-2.0,"j":0,"v":0},{"r":13,"x":-2.0,"j":1,"v":1},{"r":13,"x":-2.0,"j":-1,"v":0},
{"r":13,"x":-1.6,"j":0,"v":1},{"r":13,"x":-1.6,"j":1,"v":0},{"r":13,"x":-1.6,"j":-1,"v":0},
{"r":13,"x":-1.2,"j":0,"v":0},{"r":13,"x":-1.2,"j":1,"v":0},{"r":13,"x":-1.2,"j":-1,"v":1},{"r":13,"x":-1.2,"j":2,"v":0},
{"r":13,"x":-0.8,"j":0,"v":0},{"r":13,"x":-0.8,"j":1,"v":0},{"r":13,"x":-0.8,"j":-1,"v":0},{"r":13,"x":-0.8,"j":2,"v":0},{"r":13,"x":-0.8,"j":-2,"v":1},
{"r":13,"x":-0.4,"j":0,"v":0},{"r":13,"x":-0.4,"j":1,"v":0},{"r":13,"x":-0.4,"j":-1,"v":0},{"r":13,"x":-0.4,"j":2,"v":0},{"r":13,"x":-0.4,"j":-2,"v":0},{"r":13,"x":-0.4,"j":2.6,"v":0},
{"r":13,"x":0.0,"j":0,"v":0},{"r":13,"x":0.0,"j":1,"v":1},{"r":13,"x":0.0,"j":-1,"v":0},{"r":13,"x":0.0,"j":2,"v":0},{"r":13,"x":0.0,"j":-2,"v":0},{"r":13,"x":0.0,"j":-2.6,"v":0},
{"r":13,"x":0.4,"j":0,"v":0},{"r":13,"x":0.4,"j":1,"v":0},{"r":13,"x":0.4,"j":-1,"v":0},{"r":13,"x":0.4,"j":2,"v":1},{"r":13,"x":0.4,"j":-2,"v":0},
{"r":13,"x":0.8,"j":0,"v":0},{"r":13,"x":0.8,"j":1,"v":0},{"r":13,"x":0.8,"j":-1,"v":0},{"r":13,"x":0.8,"j":2,"v":0},
{"r":13,"x":1.2,"j":0,"v":0},{"r":13,"x":1.2,"j":1,"v":1},{"r":13,"x":1.2,"j":-1,"v":0},
{"r":13,"x":1.6,"j":0,"v":0},{"r":13,"x":1.6,"j":1,"v":0},
{"r":13,"x":2.0,"j":0,"v":1},{"r":13,"x":2.0,"j":-1,"v":0},
{"r":13,"x":2.4,"j":0,"v":0},{"r":13,"x":2.8,"j":0,"v":1},{"r":13,"x":3.1,"j":0,"v":0},{"r":13,"x":3.4,"j":0,"v":0},{"r":13,"x":3.85,"j":0,"v":1}
]},
"layer":[
{"data":{"name":"names"},"mark":{"type":"rule","color":"#cccccc","strokeWidth":0.8,"strokeDash":[1,3]},
 "encoding":{"y":{"field":"feature","type":"nominal","scale":{"domain":["SectionID","TempAvg","DayOfWeek","MonthOfYear","SectionCapacity","DistanceCBD","TZName","SectorID","ICEMS Street","HourOfDay","Rainfall","PeakHour","SectionLane","Sum of 11 other features"],"paddingInner":0,"paddingOuter":0.5},
  "axis":{"title":null,"domain":false,"ticks":false,"grid":false,"labelPadding":16,"labelFontSize":9,"labelColor":"#333333","labelFont":"DejaVu Sans"}}}},
{"mark":{"type":"rule","color":"#999999","strokeWidth":1},"encoding":{"x":{"datum":0,"type":"quantitative"}}},
{"data":{"name":"pts"},
 "transform":[{"lookup":"r","from":{"data":{"name":"names"},"key":"r","fields":["feature"]}}],
 "mark":{"type":"circle","size":19,"opacity":1,"strokeWidth":0},
 "encoding":{
  "x":{"field":"x","type":"quantitative","scale":{"domain":[-13.07,8.87],"nice":false,"zero":false},
   "axis":{"title":"SHAP value (impact on model output)","values":[-10,-5,0,5],"grid":false,"domainColor":"#333333","tickColor":"#333333","tickSize":3.5,"labelFontSize":7.6,"labelColor":"#333333","labelPadding":1.5,"titleFontSize":9,"titleFontWeight":"normal","titleColor":"#000000","titlePadding":1,"labelFont":"DejaVu Sans","titleFont":"DejaVu Sans"}},
  "y":{"field":"feature","type":"nominal"},
  "yOffset":{"field":"j","type":"quantitative","scale":{"domain":[-4,4],"range":[0,20.4]}},
  "color":{"field":"v","type":"quantitative","scale":{"domain":[0,1],"range":["#008bfb","#ff0051"],"interpolate":"hcl"},
   "legend":{"orient":"none","legendX":216,"legendY":1,"direction":"vertical","gradientLength":303,"gradientThickness":3.8,"gradientStrokeWidth":0,"values":[0,1],"labelExpr":"datum.value == 1 ? 'High' : 'Low'","labelFontSize":7.6,"labelColor":"#333333","labelOffset":2,"labelBaseline":"middle","labelFont":"DejaVu Sans","title":"Feature value","titleOrient":"right","titleAngle":270,"titleFontSize":8.3,"titleFontWeight":"normal","titleColor":"#333333","titleAnchor":"middle","titlePadding":2,"titleFont":"DejaVu Sans","padding":0}}
 }}
]
}
